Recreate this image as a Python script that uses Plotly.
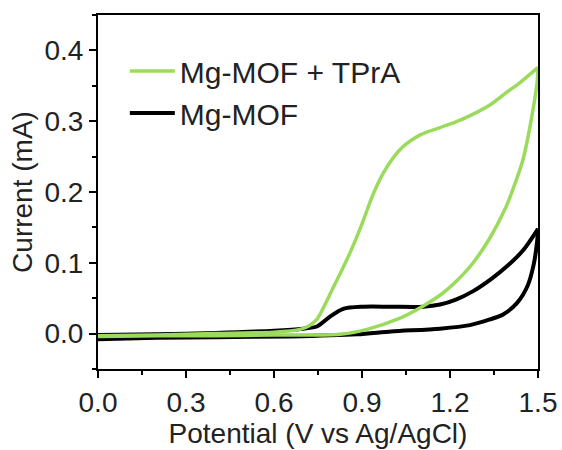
import plotly.graph_objects as go

# Mg-MOF + TPrA cyclic voltammogram: forward (anodic) scan and return scan
green_fwd_v = [0.0, 0.2, 0.4, 0.6, 0.689, 0.72, 0.746, 0.802, 0.859, 0.90, 0.94, 0.98, 1.035,
               1.10, 1.166, 1.22, 1.279, 1.34, 1.394, 1.44, 1.5]
green_fwd_i = [-0.003, -0.002, 0.0, 0.002, 0.006, 0.011, 0.020, 0.065, 0.114, 0.155, 0.199, 0.232, 0.262,
               0.281, 0.291, 0.299, 0.310, 0.324, 0.341, 0.355, 0.376]
green_ret_v = [1.5, 1.497, 1.473, 1.449, 1.42, 1.39, 1.336, 1.275, 1.224, 1.175, 1.10, 1.019,
               0.917, 0.825, 0.6, 0.4, 0.2, 0.0]
green_ret_i = [0.376, 0.355, 0.293, 0.246, 0.210, 0.178, 0.135, 0.098, 0.075, 0.057, 0.037, 0.020,
               0.006, -0.001, -0.002, -0.003, -0.003, -0.004]

# Mg-MOF cyclic voltammogram
black_fwd_v = [0.0, 0.2, 0.4, 0.6, 0.7, 0.746, 0.791, 0.836, 0.904, 1.0, 1.108, 1.166, 1.22,
               1.279, 1.34, 1.394, 1.45, 1.5]
black_fwd_i = [-0.002, -0.001, 0.001, 0.004, 0.007, 0.010, 0.024, 0.035, 0.038, 0.038, 0.038, 0.041, 0.048,
               0.060, 0.077, 0.095, 0.118, 0.148]
black_ret_v = [1.5, 1.497, 1.485, 1.465, 1.428, 1.381, 1.336, 1.268, 1.166, 1.0, 0.883, 0.655,
               0.4, 0.2, 0.0]
black_ret_i = [0.148, 0.130, 0.097, 0.068, 0.043, 0.027, 0.020, 0.012, 0.007, 0.003, -0.001, -0.004,
               -0.005, -0.006, -0.008]

x_ticks = [0.0, 0.3, 0.6, 0.9, 1.2, 1.5]
x_tick_labels = ["0.0", "0.3", "0.6", "0.9", "1.2", "1.5"]
y_ticks = [0.0, 0.1, 0.2, 0.3, 0.4]
y_tick_labels = ["0.0", "0.1", "0.2", "0.3", "0.4"]

font = "Liberation Sans, Arial, sans-serif"
txt = "#222222"

def loop(fv, fi, rv, ri):
    # forward and return scans drawn as two spline segments of one trace
    return list(fv) + [None] + list(rv), list(fi) + [None] + list(ri)

bx, by = loop(black_fwd_v, black_fwd_i, black_ret_v, black_ret_i)
gx, gy = loop(green_fwd_v, green_fwd_i, green_ret_v, green_ret_i)

fig = go.Figure()
fig.add_trace(go.Scatter(x=bx, y=by, mode="lines", name="Mg-MOF", connectgaps=False,
                         line=dict(color="#000000", width=4, shape="spline", smoothing=0.8)))
fig.add_trace(go.Scatter(x=gx, y=gy, mode="lines", name="Mg-MOF + TPrA", connectgaps=False,
                         line=dict(color="#9BDB5B", width=3.5, shape="spline", smoothing=0.8)))

axis_common = dict(
    showline=True, linecolor="black", linewidth=2, mirror=True,
    ticks="outside", ticklen=7, tickwidth=2, tickcolor="black",
    showgrid=False, zeroline=False, automargin=False,
    tickfont=dict(family=font, size=28, color=txt),
)
fig.update_xaxes(range=[0, 1.5], tickvals=x_ticks, ticktext=x_tick_labels,
                 minor=dict(ticks="outside", ticklen=4, tickwidth=2, dtick=0.15, tick0=0, tickcolor="black"),
                 title=dict(text="Potential (V vs Ag/AgCl)", font=dict(family=font, size=28, color=txt), standoff=6),
                 **axis_common)
fig.update_yaxes(range=[-0.05, 0.45], tickvals=y_ticks, ticktext=y_tick_labels,
                 minor=dict(ticks="outside", ticklen=4, tickwidth=2, dtick=0.05, tick0=0, tickcolor="black"),
                 title=dict(text="Current (mA)", font=dict(family=font, size=28, color=txt), standoff=4),
                 **axis_common)

fig.update_layout(
    width=562, height=450,
    margin=dict(l=98, r=24, t=15, b=81),
    plot_bgcolor="white", paper_bgcolor="white",
    legend=dict(x=0.061, y=0.915, xanchor="left", yanchor="top", traceorder="reversed",
                font=dict(family=font, size=30, color=txt), itemwidth=45,
                bgcolor="rgba(0,0,0,0)", tracegroupgap=0),
)

fig.write_html("out.html")
